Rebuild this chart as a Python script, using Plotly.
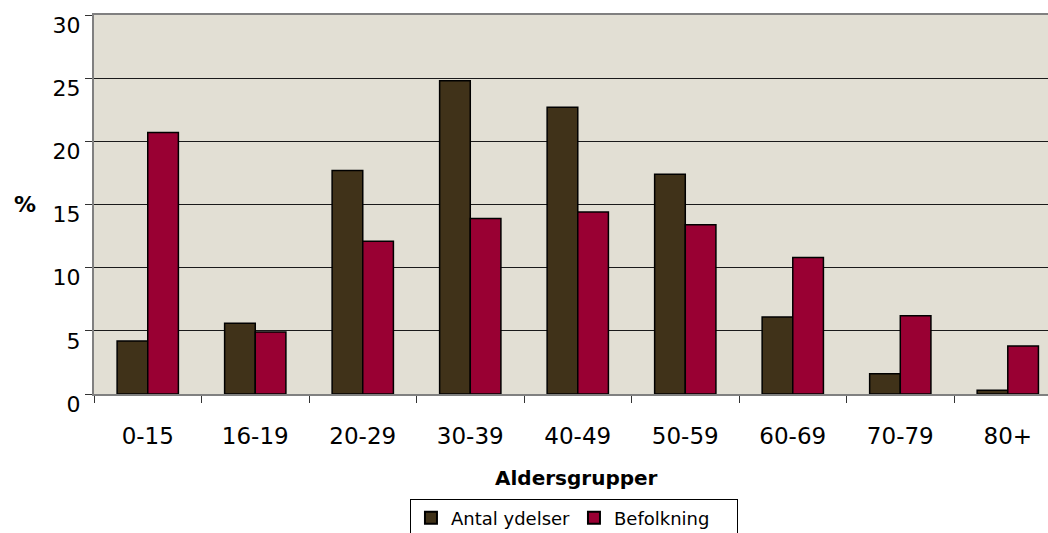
import plotly.graph_objects as go

categories = ["0-15", "16-19", "20-29", "30-39", "40-49", "50-59", "60-69", "70-79", "80+"]
antal_ydelser = [4.2, 5.6, 17.7, 24.8, 22.7, 17.4, 6.1, 1.6, 0.3]
befolkning = [20.7, 4.9, 12.1, 13.9, 14.4, 13.4, 10.8, 6.2, 3.8]
y_ticks = [0, 5, 10, 15, 20, 25, 30]

FONT = "DejaVu Sans, Verdana, sans-serif"

fig = go.Figure()
fig.add_trace(go.Bar(x=categories, y=antal_ydelser, name="Antal ydelser",
                     marker=dict(color="#403219", line=dict(color="#000000", width=1.5))))
fig.add_trace(go.Bar(x=categories, y=befolkning, name="Befolkning",
                     marker=dict(color="#990033", line=dict(color="#000000", width=1.5))))

fig.update_layout(
    width=1048, height=533,
    margin=dict(l=94, r=0, t=15, b=139, autoexpand=False),
    paper_bgcolor="white",
    plot_bgcolor="#E2DFD4",
    barmode="group",
    bargap=0.43,
    bargroupgap=0,
    font=dict(family=FONT, color="black", size=22),
    showlegend=True,
    legend=dict(orientation="h", x=0.3312, y=-0.276, xanchor="left", yanchor="top",
                bgcolor="white", bordercolor="black", borderwidth=1,
                font=dict(size=18, family=FONT), itemsizing="constant",
                entrywidth=118, entrywidthmode="pixels", tracegroupgap=0),
)

fig.update_xaxes(
    type="category", range=[-0.5, 8.374], automargin=False,
    showline=True, linecolor="#808080", linewidth=2, mirror=True,
    ticks="outside", tickson="boundaries", ticklen=7, tickcolor="#333333", tickwidth=1,
    ticklabelstandoff=20,
    tickfont=dict(size=23, family=FONT),
    showgrid=False,
)
fig.update_yaxes(
    range=[0, 30], tickvals=y_ticks, automargin=False,
    showline=True, linecolor="#808080", linewidth=2,
    ticks="outside", ticklen=7, tickcolor="#333333", tickwidth=1,
    tickfont=dict(size=22, family=FONT),
    ticklabelshift=10,
    showgrid=True, gridcolor="#1a1a1a", gridwidth=1,
    zeroline=False,
)

fig.add_annotation(text="<b>%</b>", xref="paper", yref="paper", x=-0.0723, y=0.499,
                   xanchor="center", yanchor="middle", showarrow=False,
                   font=dict(size=22, family=FONT))
fig.add_annotation(text="<b>Aldersgrupper</b>", xref="paper", yref="paper", x=0.506, y=-0.2207,
                   xanchor="center", yanchor="middle", showarrow=False,
                   font=dict(size=20, family=FONT))

fig.write_html("out.html",
               config={"displayModeBar": False},
               post_script="document.body.style.margin='0';document.body.style.overflow='hidden';")
